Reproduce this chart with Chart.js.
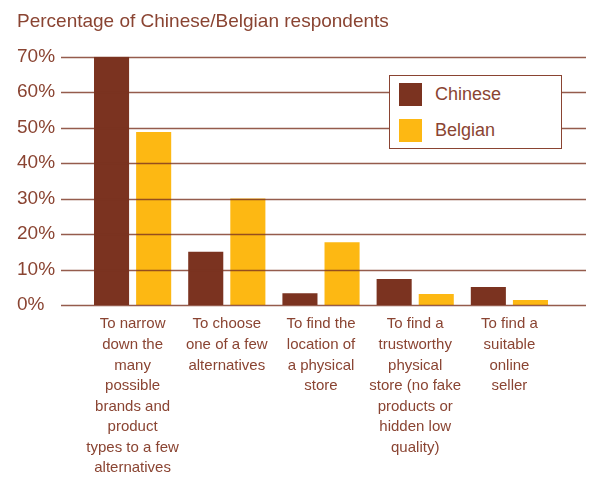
<!DOCTYPE html>
<html>
<head>
<meta charset="utf-8">
<script src="https://cdn.jsdelivr.net/npm/chart.js@4/dist/chart.umd.min.js"></script>
<style>
  html, body { margin: 0; padding: 0; background: #fff; }
  #wrap { position: relative; width: 596px; height: 480px; }
  #legend {
    position: absolute; left: 389px; top: 75px; width: 171px; height: 72px;
    background: #fff; border: 1.5px solid #8a4432;
    font-family: "Liberation Sans", Arial, sans-serif; font-size: 18px; color: #8a4432;
  }
  .item { position: absolute; left: 9px; height: 23px; line-height: 23px; }
  .sw { display: inline-block; width: 23px; height: 23px; vertical-align: top; margin-right: 13px; }
</style>
</head>
<body>
<div id="wrap">
  <canvas id="chart" width="596" height="480"></canvas>
  <div id="legend"></div>
</div>
<script>
const categories = [
  ['To narrow', 'down the', 'many', 'possible', 'brands and', 'product', 'types to a few', 'alternatives'],
  ['To choose', 'one of a few', 'alternatives'],
  ['To find the', 'location of', 'a physical', 'store'],
  ['To find a', 'trustworthy', 'physical', 'store (no fake', 'products or', 'hidden low', 'quality)'],
  ['To find a', 'suitable', 'online', 'seller']
];
const chinese = [70, 15, 3.3, 7.3, 5.1];
const belgian = [48.8, 30, 17.7, 3.1, 1.4];
const yTicks = [0, 10, 20, 30, 40, 50, 60, 70];

const brown = '#7b3320';
const gold = '#fdb813';
const textColor = '#8a4432';

// gridlines drawn on top of bars, slightly wider than the plot area
const gridPlugin = {
  id: 'gridOver',
  afterDatasetsDraw(chart) {
    const ctx = chart.ctx;
    const y = chart.scales.y;
    const area = chart.chartArea;
    ctx.save();
    ctx.strokeStyle = 'rgba(122, 51, 32, 0.8)';
    ctx.lineWidth = 1.3;
    yTicks.forEach(v => {
      const py = Math.round(y.getPixelForValue(v)) + 0.5;
      ctx.beginPath();
      ctx.moveTo(area.left - 24.5, py);
      ctx.lineTo(area.right + 29.5, py);
      ctx.stroke();
    });
    ctx.restore();
  }
};

const chart = new Chart(document.getElementById('chart'), {
  type: 'bar',
  data: {
    labels: categories,
    datasets: [
      { label: 'Chinese', data: chinese, backgroundColor: brown },
      { label: 'Belgian', data: belgian, backgroundColor: gold }
    ]
  },
  options: {
    responsive: false,
    animation: false,
    layout: { padding: { left: 17, right: 39.5, top: 0, bottom: 0 } },
    datasets: { bar: { categoryPercentage: 0.894, barPercentage: 0.833 } },
    plugins: {
      legend: { display: false },
      tooltip: { enabled: false },
      title: {
        display: true,
        text: 'Percentage of Chinese/Belgian respondents',
        align: 'start',
        color: textColor,
        font: { family: 'Liberation Sans', size: 19, weight: 'normal' },
        padding: { top: 10.6, bottom: 23.3 }
      }
    },
    scales: {
      x: {
        grid: { display: false },
        border: { display: false },
        afterFit(scale) { scale.height = 175; },
        ticks: {
          color: textColor,
          font: { family: 'Liberation Sans', size: 15, lineHeight: 1.37 },
          padding: 1,
          maxRotation: 0,
          autoSkip: false
        }
      },
      y: {
        min: 0, max: 70,
        grid: { display: false },
        border: { display: false },
        afterFit(scale) { scale.width = 68.5; },
        ticks: {
          stepSize: 10,
          crossAlign: 'far',
          color: textColor,
          font: { family: 'Liberation Sans', size: 19 },
          callback: v => v + '%'
        }
      }
    }
  },
  plugins: [gridPlugin]
});

// legend box built from the datasets
const legend = document.getElementById('legend');
chart.data.datasets.forEach((ds, i) => {
  const d = document.createElement('div');
  d.className = 'item';
  d.style.top = (7 + i * 36) + 'px';
  d.innerHTML = '<span class="sw" style="background:' + ds.backgroundColor + '"></span>' + ds.label;
  legend.appendChild(d);
});
</script>
</body>
</html>
